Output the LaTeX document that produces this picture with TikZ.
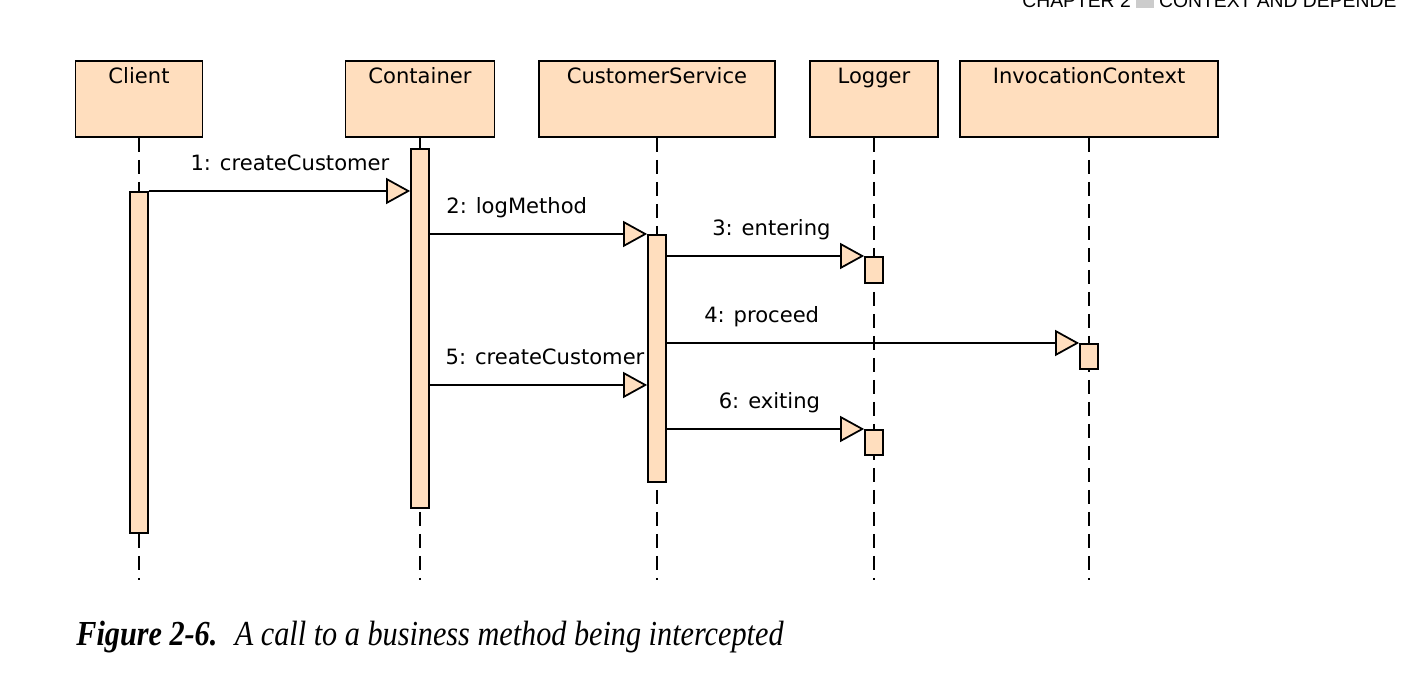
\documentclass[tikz,border=0pt]{standalone}
\usepackage{fontspec}
\setmainfont{Liberation Serif}
\newfontfamily\umlfont{DejaVu Sans}
\newfontfamily\headfont{Liberation Sans}
\newfontfamily\capfont[FakeStretch=0.86]{Liberation Serif}
\usetikzlibrary{arrows.meta, positioning, calc}
\definecolor{peach}{RGB}{255, 222, 190}
\definecolor{headGray}{RGB}{204, 204, 204}
\tikzstyle{head} = [rectangle, minimum height=1.52cm, draw=black, fill=peach, line width=1pt]
\tikzstyle{headlbl} = [anchor=north, inner sep=0pt, yshift=-0.14cm, text height=9pt, font=\umlfont\fontsize{12}{14}\selectfont]
\tikzstyle{act} = [rectangle, minimum width=0.36cm, draw=black, fill=peach, line width=1pt, anchor=north]
\tikzstyle{lifeline} = [line width=1pt, dash pattern=on 0.28cm off 0.16cm]
\tikzstyle{msg} = [line width=1pt, -{Triangle[length=0.48cm, width=0.52cm, fill=peach]}]
\tikzstyle{msglbl} = [anchor=base, yshift=0.4cm, inner sep=0pt, font=\umlfont\fontsize{12}{14}\selectfont]

\begin{document}
\begin{tikzpicture}[x=0.02cm, y=-0.02cm]
\useasboundingbox (0,0) rectangle (1401,688);
\begin{scope}
\clip (0,0) rectangle (1401,688);
\node (chapter) [anchor=base west, inner sep=0pt, font=\headfont\fontsize{11}{13}\selectfont] at (1022,8) {CHAPTER 2 \textcolor{headGray}{\rule{10pt}{10pt}} CONTEXT AND DEPENDE};
\end{scope}

\node (client) [head, minimum width=2.54cm, label={[headlbl]north:Client}] at (139,99) {};
\node (container) [head, minimum width=2.98cm, label={[headlbl]north:Container}] at (420,99) {};
\node (service) [head, minimum width=4.72cm, label={[headlbl]north:CustomerService}] at (657,99) {};
\node (logger) [head, minimum width=2.56cm, label={[headlbl]north:Logger}] at (874,99) {};
\node (context) [head, minimum width=5.16cm, label={[headlbl]north:InvocationContext}] at (1089,99) {};

\coordinate (bottom) at (0,580);
\foreach \n in {client, container, service, logger, context}
  \draw[lifeline] (\n.south) -- (\n.south |- bottom);

\node (clientact) [act, minimum height=6.82cm] at (139,191) {};
\node (containeract) [act, minimum height=7.18cm] at (420,148) {};
\node (serviceact) [act, minimum height=4.94cm] at (657,234) {};
\node (loggeract1) [act, minimum height=0.52cm] at (874,256) {};
\node (contextact) [act, minimum height=0.5cm] at (1089,343) {};
\node (loggeract2) [act, minimum height=0.5cm] at (874,429) {};

\draw[msg] (clientact.north east) -- (clientact.north east -| containeract.west) node[msglbl, pos=0.54] {1: createCustomer};
\draw[msg] (serviceact.north west -| containeract.east) -- (serviceact.north west) node[msglbl, pos=0.40] {2: logMethod};
\draw[msg] (loggeract1.north west -| serviceact.east) -- (loggeract1.north west) node[msglbl, pos=0.53] {3: entering};
\draw[msg] (contextact.north west -| serviceact.east) -- (contextact.north west) node[msglbl, pos=0.23] {4: proceed};
\coordinate (call5) at (0,385);
\draw[msg] (call5 -| containeract.east) -- (call5 -| serviceact.west) node[msglbl, pos=0.53] {5: createCustomer};
\draw[msg] (loggeract2.north west -| serviceact.east) -- (loggeract2.north west) node[msglbl, pos=0.52] {6: exiting};

\node (caption) [anchor=base west, inner sep=0pt, font=\capfont\fontsize{20}{24}\selectfont] at (76,646) {\textbf{\textit{Figure 2-6.}}\hspace{0.5em}\textit{A call to a business method being intercepted}};
\end{tikzpicture}
\end{document}
